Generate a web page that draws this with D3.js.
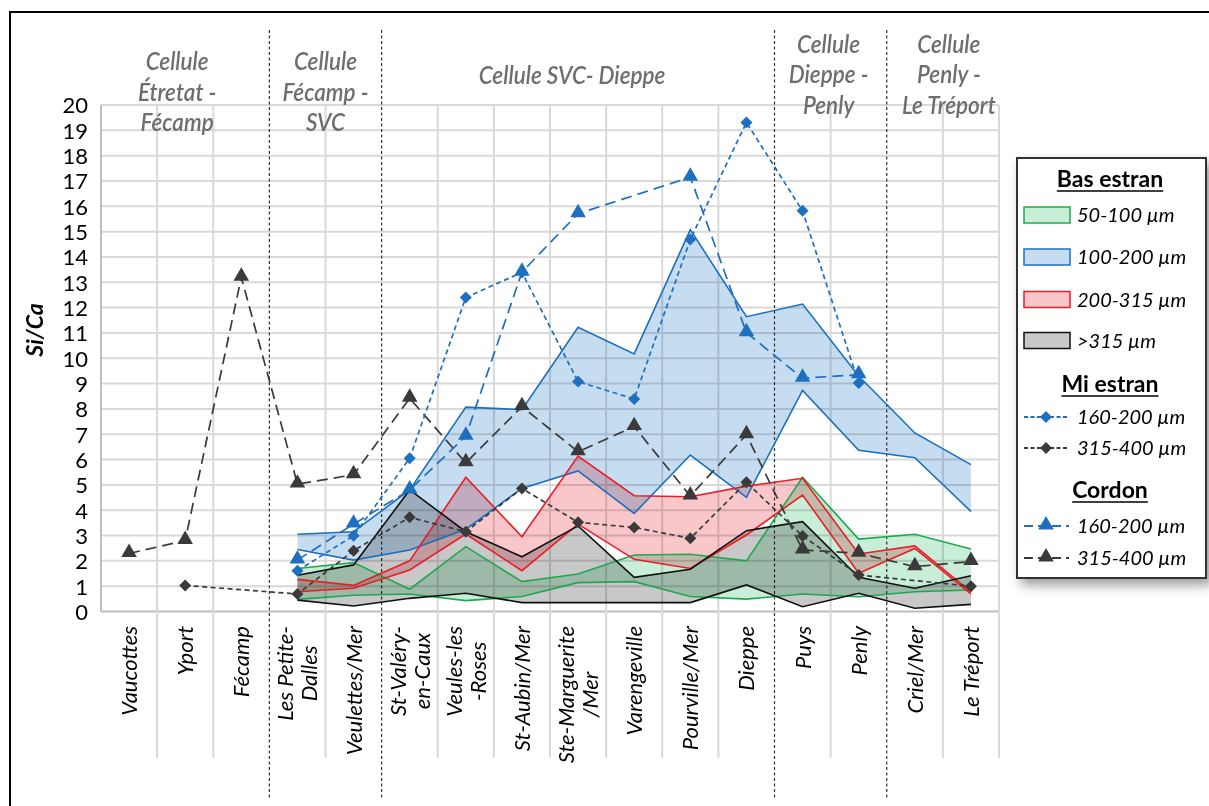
<!DOCTYPE html>
<html><head><meta charset="utf-8">
<script src="https://cdn.jsdelivr.net/npm/d3@7"></script>
<style>
body{margin:0;background:#fff;}
svg{display:block;font-family:Lato,"Open Sans",sans-serif;}
</style></head><body>
<svg id="chart" width="1209" height="806"></svg>
<script>
// ---------- DATA ----------
const categories = [["Vaucottes"],["Yport"],["Fécamp"],["Les Petite-","Dalles"],["Veulettes/Mer"],
  ["St-Valéry-","en-Caux"],["Veules-les","-Roses"],["St-Aubin/Mer"],["Ste-Marguerite","/Mer"],
  ["Varengeville"],["Pourville/Mer"],["Dieppe"],["Puys"],["Penly"],["Criel/Mer"],["Le Tréport"]];
const yTickValues = [0,1,2,3,4,5,6,7,8,9,10,11,12,13,14,15,16,17,18,19,20];

const cellNames = [["Cellule","Étretat -","Fécamp"],["Cellule","Fécamp -","SVC"],["Cellule SVC- Dieppe"],
  ["Cellule","Dieppe -","Penly"],["Cellule","Penly -","Le Tréport"]];
const cellFirst = [0,3,5,12,14];
const cellLast  = [2,4,11,13,15];

// Bas estran bands (upper / lower)
const b50_100_hi  = [null,null,null,1.70,1.93,0.88,2.56,1.18,1.48,2.23,2.26,2.00,5.30,2.86,3.05,2.47];
const b50_100_lo  = [null,null,null,0.48,0.64,0.69,0.43,0.59,1.14,1.18,0.59,0.49,0.69,0.58,0.78,0.85];
const b100_200_hi = [null,null,null,3.05,3.15,4.80,8.07,7.97,11.22,10.17,15.08,11.64,12.14,9.30,7.05,5.80];
const b100_200_lo = [null,null,null,2.45,2.03,2.43,3.25,4.86,5.55,3.87,6.18,4.51,8.73,6.37,6.07,3.95];
const b200_315_hi = [null,null,null,1.27,1.03,2.00,5.30,2.95,6.14,4.57,4.53,4.95,5.26,2.27,2.59,0.78];
const b200_315_lo = [null,null,null,0.78,0.92,1.64,3.06,1.61,3.45,2.06,1.70,3.02,4.60,1.51,2.49,0.70];
const b315_hi     = [null,null,null,1.43,1.84,4.80,3.15,2.16,3.38,1.35,1.67,3.19,3.55,1.35,0.92,1.41];
const b315_lo     = [null,null,null,0.45,0.22,0.52,0.72,0.35,0.35,0.35,0.35,1.05,0.19,0.72,0.13,0.28];

// Mi estran
const mi160_200 = [null,null,null,1.61,2.99,6.05,12.40,13.39,9.08,8.39,14.69,19.31,15.82,9.02,null,null];
const mi315_400 = [null,1.03,null,0.69,2.40,3.72,3.15,4.86,3.52,3.32,2.89,5.10,2.98,1.44,null,1.00];
// Cordon
const co160_200 = [null,null,null,2.03,3.45,4.80,6.92,13.40,15.71,null,17.15,11.01,9.21,9.35,null,null];
const co315_400 = [2.29,2.80,13.20,5.03,5.40,8.42,5.87,8.09,6.31,7.30,4.56,6.98,2.43,2.30,1.77,1.97];

const bandLabels = ["50-100 µm","100-200 µm","200-315 µm",">315 µm"];
const lineLabels = ["160-200 µm","315-400 µm"];
const legendTitles = ["Bas estran","Mi estran","Cordon"];

// ---------- LAYOUT ----------
const svg = d3.select("#chart");
const x = d3.scaleBand().domain(d3.range(categories.length)).range([101, 999]).padding(0);
const y = d3.scaleLinear().domain([0, 20]).range([611.5, 105]);
const cx = i => x(i) + x.bandwidth() / 2;

const defs = svg.append("defs");
const f = defs.append("filter").attr("id","shadow").attr("x","-20%").attr("y","-20%").attr("width","150%").attr("height","150%");
f.append("feDropShadow").attr("dx",5).attr("dy",6).attr("stdDeviation",6).attr("flood-color","#000").attr("flood-opacity",0.4);

// outer frame
svg.append("rect").attr("x",10).attr("y",12).attr("width",1260).attr("height",900)
  .attr("fill","none").attr("stroke","#000").attr("stroke-width",2);

// grid
const grid = svg.append("g");
yTickValues.forEach(v => {
  grid.append("line").attr("x1",x(0)).attr("x2",x.range()[1]).attr("y1",y(v)).attr("y2",y(v))
    .attr("stroke", v===0 ? "#bdbdbd" : "#d9d9d9").attr("stroke-width",2);
});
const separators = cellFirst.slice(1);
d3.range(categories.length + 1).forEach(i => {
  const xx = i === categories.length ? x.range()[1] : x(i);
  if (separators.includes(i)) return;
  grid.append("line").attr("x1",xx).attr("x2",xx).attr("y1",y(20)).attr("y2", i===0 ? y(0) : 758)
    .attr("stroke", i===0 ? "#bdbdbd" : "#d9d9d9").attr("stroke-width",2);
});

// y axis labels
const yAxis = d3.axisLeft(y).tickValues(yTickValues).tickSize(0).tickPadding(13);
const ga = svg.append("g").attr("transform",`translate(${x(0)},0)`).call(yAxis);
ga.select(".domain").remove();
ga.selectAll("text").attr("font-size",22).attr("fill","#000").attr("font-family","Lato,sans-serif").attr("dy","0.36em");

svg.append("text").attr("transform","translate(43,330) rotate(-90)").attr("text-anchor","middle")
  .attr("font-size",23).attr("font-weight",700).attr("font-style","italic").attr("fill","#000").text("Si/Ca");

// x labels
categories.forEach((lines, i) => {
  const g = svg.append("g");
  const n = lines.length;
  const texts = lines.map(t => g.append("text").text(t).attr("font-size",22).attr("font-style","italic")
      .attr("fill","#000").attr("text-anchor","middle"));
  const L = d3.max(texts, t => t.node().getComputedTextLength());
  const cy = 626 + L / 2;
  texts.forEach((t, j) => {
    const off = (j - (n - 1) / 2) * 24;
    t.attr("transform", `translate(${cx(i) + off + 8},${cy}) rotate(-90)`);
  });
});

// cell separators (dotted)
separators.forEach(i => {
  svg.append("line").attr("x1",x(i)).attr("x2",x(i)).attr("y1",30).attr("y2",800)
    .attr("stroke","#333").attr("stroke-width",1.2).attr("stroke-dasharray","3,2.5");
});

// cell titles
const cellTop = [70.5,70.5,84,53,53];
const cellDx = [-8,0,-6,-2,6];
cellNames.forEach((lines, k) => {
  const mx = (x(cellFirst[k]) + x(cellLast[k]) + x.bandwidth()) / 2 + cellDx[k];
  lines.forEach((t, j) => {
    svg.append("text").attr("x", mx).attr("y", cellTop[k] + j * 30.5).attr("text-anchor","middle")
      .attr("font-size",25).attr("font-style","italic").attr("font-weight",600).attr("fill","#6e6e6e")
      .attr("transform",`translate(${mx*0.1},0) scale(0.9,1)`).text(t);
  });
});

// ---------- BANDS ----------
const bands = [
  {hi:b50_100_hi, lo:b50_100_lo, fill:"#c8eed8", stroke:"#1fa84f"},
  {hi:b100_200_hi, lo:b100_200_lo, fill:"#c6ddf1", stroke:"#1b70bc"},
  {hi:b200_315_hi, lo:b200_315_lo, fill:"#f9c6c9", stroke:"#ec1c24"},
  {hi:b315_hi, lo:b315_lo, fill:"#c8c8c8", stroke:"#111"}
];
const area = d3.area().defined(d => d.hi != null).x(d => cx(d.i)).y0(d => y(d.lo)).y1(d => y(d.hi));
const line = d3.line().defined(d => d.v != null).x(d => cx(d.i)).y(d => y(d.v));
const fills = svg.append("g");
bands.forEach(b => {
  const pts = b.hi.map((v, i) => ({i, hi:v, lo:b.lo[i]}));
  fills.append("path").datum(pts).attr("d", area).attr("fill", b.fill).style("mix-blend-mode","multiply");
});
const strokes = svg.append("g");
bands.forEach(b => {
  [b.hi, b.lo].forEach(arr => {
    const pts = arr.map((v, i) => ({i, v}));
    strokes.append("path").datum(pts).attr("d", line).attr("fill","none")
      .attr("stroke", b.stroke).attr("stroke-width",1.6).attr("stroke-linejoin","miter");
  });
});

// ---------- DASHED SERIES ----------
const series = [
  {vals:co315_400, color:"#3a3a3a", dash:"11,6", sym:"tri"},
  {vals:mi315_400, color:"#3a3a3a", dash:"5,3.5", sym:"dia"},
  {vals:co160_200, color:"#1e6fc0", dash:"11,6", sym:"tri"},
  {vals:mi160_200, color:"#1e6fc0", dash:"5,3.5", sym:"dia"}
];
const triPath = d3.symbol().type(d3.symbolTriangle).size(105)();
const diaPath = d3.symbol().type(d3.symbolSquare).size(72)();
function marker(g, sym, color, px, py) {
  if (sym === "tri") g.append("path").attr("d", triPath).attr("transform",`translate(${px},${py - 1})`).attr("fill", color);
  else g.append("path").attr("d", diaPath).attr("transform",`translate(${px},${py}) rotate(45)`).attr("fill", color);
}
const sg = svg.append("g");
series.forEach(s => {
  const pts = s.vals.map((v, i) => ({i, v})).filter(d => d.v != null);
  sg.append("path").datum(pts).attr("d", line).attr("fill","none").attr("stroke", s.color)
    .attr("stroke-width",1.7).attr("stroke-dasharray", s.dash);
  pts.forEach(d => marker(sg, s.sym, s.color, cx(d.i), y(d.v)));
});

// ---------- LEGEND ----------
const lg = svg.append("g");
lg.append("rect").attr("x",1017).attr("y",158).attr("width",189).attr("height",420)
  .attr("fill","#fff").attr("stroke","#333").attr("stroke-width",2).attr("filter","url(#shadow)");
const titleY = [187, 392, 498];
legendTitles.forEach((t, k) => {
  const tx = lg.append("text").attr("x",1110).attr("y",titleY[k]).attr("text-anchor","middle")
    .attr("font-size",23).attr("font-weight",700).attr("fill","#000").text(t);
  const w = tx.node().getComputedTextLength();
  lg.append("line").attr("x1",1110 - w/2).attr("x2",1110 + w/2).attr("y1",titleY[k]+4).attr("y2",titleY[k]+4)
    .attr("stroke","#000").attr("stroke-width",1.6);
});
const bandRowY = [215, 257, 299.5, 340.5];
bands.forEach((b, k) => {
  lg.append("rect").attr("x",1024).attr("y",bandRowY[k]-8).attr("width",46).attr("height",16)
    .attr("fill", b.fill).attr("stroke", b.stroke).attr("stroke-width",1.5);
  lg.append("text").attr("x",1077).attr("y",bandRowY[k]+7).attr("font-size",20).attr("font-style","italic")
    .attr("fill","#000").text(bandLabels[k]);
});
const lineRows = [
  {s:series[3], yy:417, label:lineLabels[0]},
  {s:series[1], yy:448, label:lineLabels[1]},
  {s:series[2], yy:526, label:lineLabels[0]},
  {s:series[0], yy:558, label:lineLabels[1]}
];
lineRows.forEach(r => {
  const dash = r.s.sym === "dia" ? "4,2.5" : "9,5";
  lg.append("line").attr("x1",1024).attr("x2",1069).attr("y1",r.yy).attr("y2",r.yy)
    .attr("stroke", r.s.color).attr("stroke-width",2).attr("stroke-dasharray", dash);
  marker(lg, r.s.sym, r.s.color, 1046, r.yy);
  lg.append("text").attr("x",1077).attr("y",r.yy+7).attr("font-size",20).attr("font-style","italic")
    .attr("fill","#000").text(r.label);
});
</script>
</body></html>
